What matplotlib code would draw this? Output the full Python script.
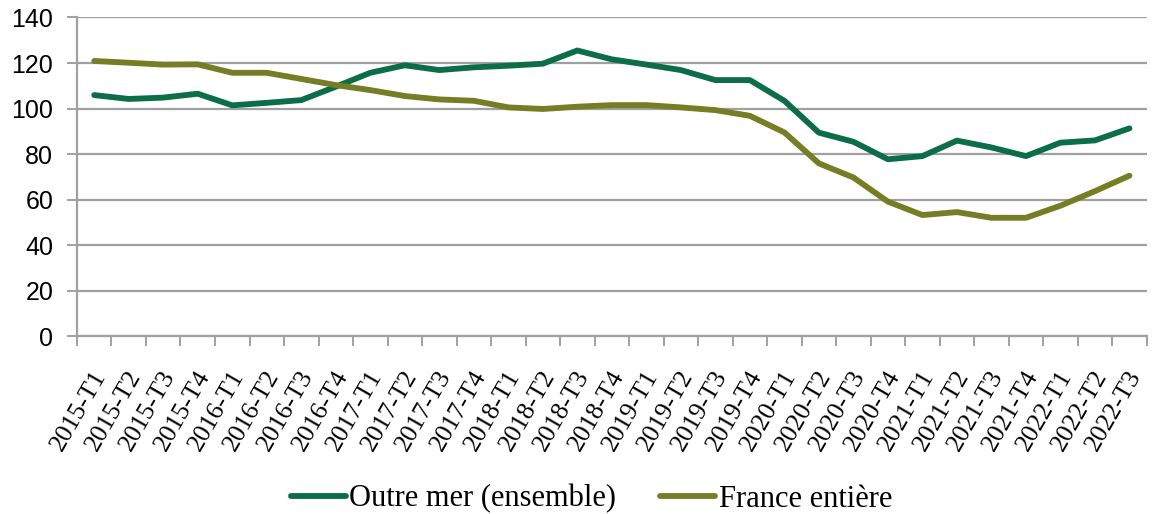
import numpy as np
import matplotlib.pyplot as plt
from matplotlib.transforms import ScaledTranslation

# Données (indice)
trimestres = ['2015-T1', '2015-T2', '2015-T3', '2015-T4',
              '2016-T1', '2016-T2', '2016-T3', '2016-T4',
              '2017-T1', '2017-T2', '2017-T3', '2017-T4',
              '2018-T1', '2018-T2', '2018-T3', '2018-T4',
              '2019-T1', '2019-T2', '2019-T3', '2019-T4',
              '2020-T1', '2020-T2', '2020-T3', '2020-T4',
              '2021-T1', '2021-T2', '2021-T3', '2021-T4',
              '2022-T1', '2022-T2', '2022-T3']
outre_mer = [105.9, 104.2, 104.8, 106.5, 101.4, 102.5, 103.7, 109.6,
             115.7, 119.0, 116.9, 118.1, 118.8, 119.7, 125.5, 121.6,
             119.3, 116.9, 112.5, 112.5, 103.4, 89.4, 85.4, 77.7,
             79.1, 85.9, 82.9, 79.1, 85.0, 86.0, 91.3]
france = [120.9, 120.1, 119.3, 119.4, 115.7, 115.7, 113.0, 110.3,
          108.1, 105.5, 104.0, 103.4, 100.5, 99.8, 100.8, 101.5,
          101.5, 100.5, 99.3, 96.8, 89.5, 75.9, 69.7, 59.1,
          53.2, 54.5, 52.0, 52.0, 57.3, 63.7, 70.5]

vert = '#0b6e46'
olive = '#757d25'
gris = '#a0a0a0'

fig = plt.figure(figsize=(11.54, 5.14), dpi=100)
ax = fig.add_axes([0.0667, 0.346, 0.927, 0.62])

x = np.arange(len(trimestres))
ax.plot(x, outre_mer, color=vert, lw=4.2, solid_capstyle='round',
        label='Outre mer (ensemble)')
ax.plot(x, france, color=olive, lw=4.2, solid_capstyle='round',
        label='France entière')

ax.set_xlim(-0.5, len(trimestres) - 0.5)
ax.set_ylim(0, 140)
ax.set_yticks(range(0, 141, 20))
ax.yaxis.grid(True, color=gris, lw=1.6)
ax.set_axisbelow(True)

for s in ['top', 'right']:
    ax.spines[s].set_visible(False)
for s in ['left', 'bottom']:
    ax.spines[s].set_color(gris)
    ax.spines[s].set_linewidth(1.6)

# graduations entre les catégories, étiquettes au centre
ax.set_xticks(np.arange(-0.5, len(trimestres), 1.0))
ax.set_xticklabels([])
ax.tick_params(axis='x', length=7, width=1.4, color=gris)
ax.set_xticks(x, minor=True)
ax.set_xticklabels(trimestres, minor=True, rotation=60, ha='right',
                   va='center', rotation_mode='anchor', fontsize=18.5,
                   family='Liberation Serif')
ax.tick_params(axis='x', which='minor', length=0, pad=26)
decal = ScaledTranslation(0.07, 0, fig.dpi_scale_trans)
for t in ax.get_xticklabels(minor=True):
    t.set_transform(t.get_transform() + decal)

ax.tick_params(axis='y', length=7, width=1.4, color=gris, labelsize=18,
               pad=10)
for t in ax.get_yticklabels():
    t.set_family('Liberation Sans')

ax.legend(loc='center', bbox_to_anchor=(0.481, -0.511), ncol=2,
          frameon=False, handlelength=1.8, columnspacing=1.45,
          handletextpad=0.12,
          prop={'family': 'Liberation Serif', 'size': 22})

fig.savefig('out.png', dpi=100)
